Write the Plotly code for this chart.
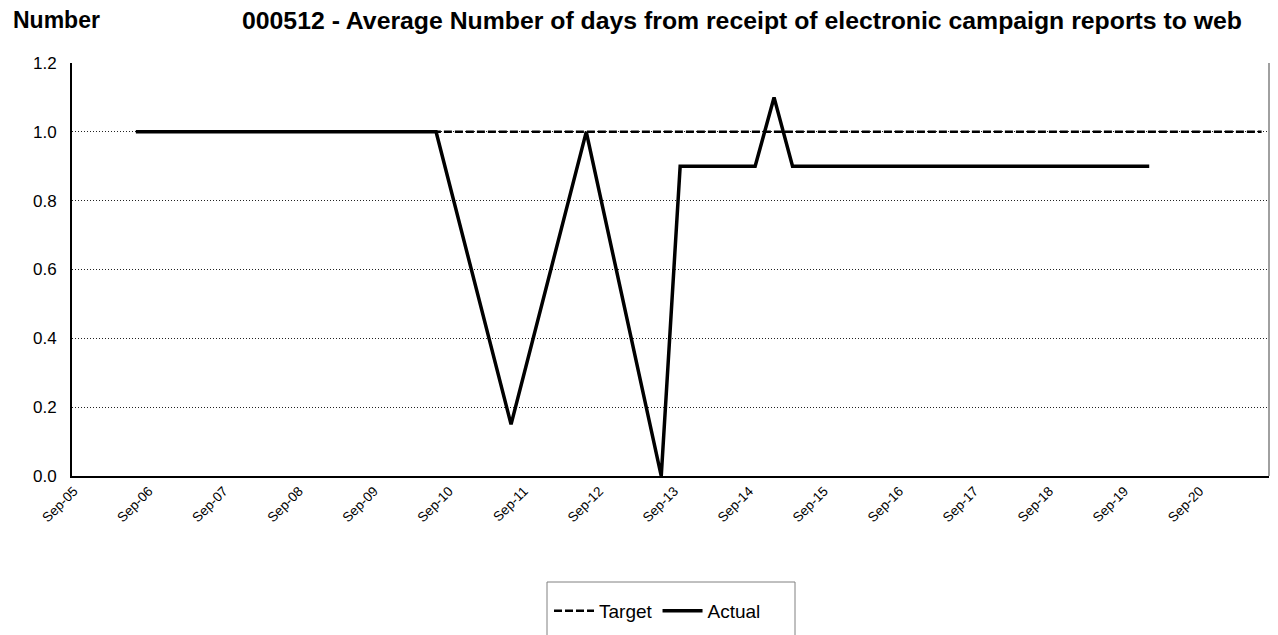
import plotly.graph_objects as go

# ---- data ----
target_dates = ["2006-06-30", "2007-06-30", "2008-06-30", "2009-06-30", "2010-06-30",
                "2011-06-30", "2012-06-30", "2013-06-30", "2014-06-30", "2015-06-30",
                "2016-06-30", "2017-06-30", "2018-06-30", "2019-06-30", "2020-06-30",
                "2021-06-30"]
target_values = [1.0] * len(target_dates)

actual_dates = ["2006-06-30", "2007-06-30", "2008-06-30", "2009-06-30", "2010-06-30",
                "2011-06-30", "2012-06-30", "2013-06-30",
                "2013-09-30", "2013-12-31", "2014-03-31", "2014-06-30", "2014-09-30",
                "2014-12-31", "2015-03-31", "2015-06-30", "2015-09-30", "2015-12-31",
                "2016-03-31", "2016-06-30", "2016-09-30", "2016-12-31",
                "2017-03-31", "2017-06-30", "2017-09-30", "2017-12-31",
                "2018-03-31", "2018-06-30", "2018-09-30", "2018-12-31",
                "2019-03-31", "2019-06-30", "2019-09-30", "2019-12-31"]
actual_values = [1.0, 1.0, 1.0, 1.0, 1.0, 0.15, 1.0, 0.0,
                 0.9, 0.9, 0.9, 0.9, 0.9,
                 1.1, 0.9, 0.9, 0.9, 0.9,
                 0.9, 0.9, 0.9, 0.9,
                 0.9, 0.9, 0.9, 0.9,
                 0.9, 0.9, 0.9, 0.9,
                 0.9, 0.9, 0.9, 0.9]

y_label = "Number"
title_text = "000512 - Average Number of days from receipt of electronic campaign reports to web"

FONT = "Liberation Sans, Arial, sans-serif"

# ---- geometry (pixels, in page coordinates; page body adds an 8px offset) ----
W, H = 1278, 635
OFF = 8
L, R, T, B = 72 - OFF, 1269 - OFF, 63 - OFF, 476 - OFF
pw, ph = R - L, B - T


def px(x):
    return (x - OFF - L) / pw


def py(y):
    return (B - (y - OFF)) / ph


fig = go.Figure()
fig.add_trace(go.Scatter(
    x=target_dates, y=target_values, name="Target", mode="lines",
    line=dict(color="black", width=2.5, dash="8px,3px"),
))
fig.add_trace(go.Scatter(
    x=actual_dates, y=actual_values, name="Actual", mode="lines",
    line=dict(color="black", width=3.5),
))

fig.update_layout(
    width=W, height=H,
    margin=dict(l=L, r=W - R, t=T, b=H - B, pad=0, autoexpand=False),
    paper_bgcolor="white", plot_bgcolor="white",
    font=dict(family=FONT, color="black", size=16),
    showlegend=True,
    legend=dict(
        orientation="h", x=px(549), xanchor="left", y=py(592), yanchor="top",
        font=dict(size=19, family=FONT, color="black"),
        bgcolor="rgba(0,0,0,0)", borderwidth=0, itemwidth=40,
        traceorder="normal",
    ),
    xaxis=dict(
        type="date", automargin=False,
        range=["2005-08-23", "2021-08-05"],
        tick0="2005-09-01", dtick="M12", tickformat="%b-%y",
        tickangle=-45,
        showgrid=False, zeroline=False,
        showline=True, linecolor="black", linewidth=2,
        ticks="", ticklen=0,
        tickfont=dict(size=13.5, family=FONT, color="black"),
    ),
    yaxis=dict(
        automargin=False,
        range=[0, 1.2], dtick=0.2, tickformat=".1f",
        showgrid=True, gridcolor="#222222", gridwidth=1, griddash="1px,2px",
        zeroline=False,
        showline=True, linecolor="black", linewidth=2,
        ticks="outside", ticklen=10, tickcolor="rgba(0,0,0,0)",
        tickfont=dict(size=17, family=FONT, color="black"),
    ),
    shapes=[
        dict(type="line", xref="paper", yref="paper", x0=1, x1=1, y0=0, y1=1,
             line=dict(color="#808080", width=1.5)),
        dict(type="rect", xref="paper", yref="paper",
             x0=px(547), x1=px(795), y0=py(582), y1=py(660),
             line=dict(color="#808080", width=1), fillcolor="rgba(0,0,0,0)"),
    ],
    annotations=[
        dict(text="<b>" + y_label + "</b>", xref="paper", yref="paper",
             x=px(11), y=py(20.5), xanchor="left", yanchor="middle", showarrow=False,
             font=dict(size=23, family=FONT, color="black")),
        dict(text="<b>" + title_text + "</b>", xref="paper", yref="paper",
             x=px(240), y=py(20.5), xanchor="left", yanchor="middle", showarrow=False,
             font=dict(size=24.8, family=FONT, color="black")),
    ],
)

fig.write_html("out.html")
